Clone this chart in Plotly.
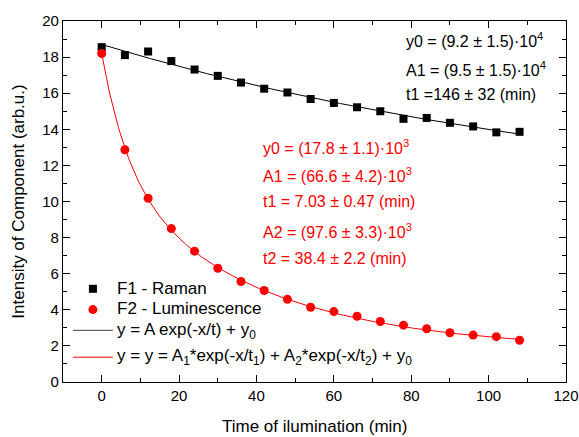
import numpy as np
import plotly.graph_objects as go

# Illumination time (min)
time_min = [0, 6, 12, 18, 24, 30, 36, 42, 48, 54, 60, 66, 72, 78, 84, 90, 96, 102, 108]

# F1 - Raman component intensity (arb.u.)
raman = [18.55, 18.11, 18.31, 17.78, 17.31, 16.96, 16.59, 16.25, 16.04, 15.68,
         15.46, 15.22, 15.00, 14.58, 14.63, 14.36, 14.16, 13.83, 13.86]

# F2 - Luminescence component intensity (arb.u.)
lumin = [18.20, 12.87, 10.18, 8.50, 7.25, 6.30, 5.57, 5.07, 4.58, 4.14,
         3.90, 3.64, 3.35, 3.15, 2.95, 2.73, 2.60, 2.51, 2.31]

# Fit parameters (intensity in units of 10^4)
raman_fit = {"y0": 9.2, "A1": 9.5, "t1": 146.0}
lumin_fit = {"y0": 1.78, "A1": 6.66, "t1": 7.03, "A2": 9.76, "t2": 38.4}

FONT = "Arial, Liberation Sans, sans-serif"
RED = "#FF0000"

xf = np.linspace(min(time_min), max(time_min), 300)
raman_curve = raman_fit["y0"] + raman_fit["A1"] * np.exp(-xf / raman_fit["t1"])
lumin_curve = (lumin_fit["y0"]
               + lumin_fit["A1"] * np.exp(-xf / lumin_fit["t1"])
               + lumin_fit["A2"] * np.exp(-xf / lumin_fit["t2"]))

fig = go.Figure()
fig.add_trace(go.Scatter(x=xf, y=raman_curve, mode="lines",
                         line=dict(color="black", width=1), hoverinfo="skip"))
fig.add_trace(go.Scatter(x=xf, y=lumin_curve, mode="lines",
                         line=dict(color=RED, width=1), hoverinfo="skip"))
fig.add_trace(go.Scatter(x=time_min, y=raman, mode="markers",
                         marker=dict(symbol="square", size=8, color="black")))
fig.add_trace(go.Scatter(x=time_min, y=lumin, mode="markers",
                         marker=dict(symbol="circle", size=9, color=RED)))

axis_common = dict(
    showline=True, linecolor="black", linewidth=1.3, mirror="allticks",
    ticks="inside", ticklen=7, tickwidth=1.2, tickcolor="black",
    showgrid=False, zeroline=False,
    tickfont=dict(family=FONT, size=15, color="black"),
)

fig.update_xaxes(
    range=[-10, 120], tick0=0, dtick=20,
    minor=dict(ticks="inside", ticklen=4, dtick=10, tick0=0, tickcolor="black", tickwidth=1.2),
    automargin=False,
    **axis_common,
)
fig.update_yaxes(
    range=[0, 20], tick0=0, dtick=2,
    minor=dict(ticks="inside", ticklen=4, dtick=1, tick0=0, tickcolor="black", tickwidth=1.2),
    title=dict(text="Intensity of Component (arb.u.)", font=dict(family=FONT, size=17, color="black"), standoff=13),
    **axis_common,
)

annotations = []

def label(text, x, y, color, size=16):
    annotations.append(dict(text=text, x=x, y=y, xref="paper", yref="paper",
                            xanchor="left", yanchor="middle", showarrow=False,
                            font=dict(family=FONT, size=size, color=color)))

# x-axis title
annotations.append(dict(text="Time of ilumination (min)", x=0.5, y=-0.124,
                        xref="paper", yref="paper", xanchor="center", yanchor="middle",
                        showarrow=False, font=dict(family=FONT, size=17, color="black")))

# Raman fit parameters
bx = 0.6786
label("y0 = (9.2 ± 1.5)·10<sup>4</sup>", bx, 0.947, "black")
label("A1 = (9.5 ± 1.5)·10<sup>4</sup>", bx, 0.868, "black")
label("t1 =146 ± 32 (min)", bx, 0.7967, "black")

# Luminescence fit parameters
rx = 0.3929
label("y0 = (17.8 ± 1.1)·10<sup>3</sup>", rx, 0.650, RED)
label("A1 = (66.6 ± 4.2)·10<sup>3</sup>", rx, 0.573, RED)
label("t1 = 7.03 ± 0.47 (min)", rx, 0.5, RED)
label("A2 = (97.6 ± 3.3)·10<sup>3</sup>", rx, 0.417, RED)
label("t2 = 38.4 ± 2.2 (min)", rx, 0.3434, RED)

# Legend entries
leg_x_text = 0.1032
label("F1 - Raman", leg_x_text, 0.2582, "black", 17)
label("F2 - Luminescence", leg_x_text, 0.2030, "black", 17)
label("y = A exp(-x/t) + y<sub>0</sub>", leg_x_text, 0.1420, "black", 17)
label("y = y = A<sub>1</sub>*exp(-x/t<sub>1</sub>) + A<sub>2</sub>*exp(-x/t<sub>2</sub>) + y<sub>0</sub>",
      leg_x_text, 0.0690, "black", 17)

shapes = [
    dict(type="rect", xref="paper", yref="paper", xsizemode="pixel", ysizemode="pixel",
         xanchor=0.0595, yanchor=0.2582, x0=-4, x1=4, y0=-4, y1=4,
         fillcolor="black", line=dict(width=0)),
    dict(type="circle", xref="paper", yref="paper", xsizemode="pixel", ysizemode="pixel",
         xanchor=0.0595, yanchor=0.2005, x0=-4.5, x1=4.5, y0=-4.5, y1=4.5,
         fillcolor=RED, line=dict(width=0)),
    dict(type="line", xref="paper", yref="paper", x0=0.0198, x1=0.0992, y0=0.1429, y1=0.1429,
         line=dict(color="#666666", width=1.2)),
    dict(type="line", xref="paper", yref="paper", x0=0.0198, x1=0.0992, y0=0.0687, y1=0.0687,
         line=dict(color=RED, width=1)),
]

fig.update_layout(
    width=579, height=437,
    margin=dict(l=63, r=12, t=18, b=55),
    paper_bgcolor="white", plot_bgcolor="white",
    showlegend=False,
    annotations=annotations,
    shapes=shapes,
    font=dict(family=FONT, color="black"),
)

fig.write_html("out.html")
